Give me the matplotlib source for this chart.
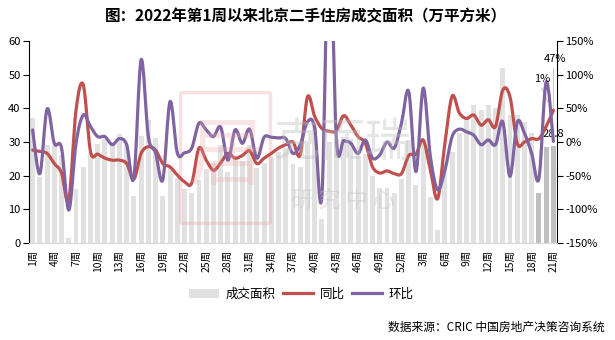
import matplotlib
matplotlib.use("Agg")
import matplotlib.pyplot as plt
from matplotlib.path import Path
from matplotlib.patches import PathPatch, Patch, FancyBboxPatch
from matplotlib.lines import Line2D
import numpy as np

plt.rcParams['font.family'] = ['Noto Sans CJK SC', 'DejaVu Sans']
plt.rcParams['axes.unicode_minus'] = False

# Week labels: 2022 weeks 1-52, then 2023 weeks 1-21
weeks_2022 = list(range(1, 53))
weeks_2023 = list(range(1, 22))
week_labels = [f"{w}周" for w in weeks_2022 + weeks_2023]

# Weekly transaction area (10k m2)
area = [37.0, 19.5, 29.0, 29.0, 26.0, 1.5, 16.0, 22.7, 26.7, 29.4,
        31.0, 30.0, 32.4, 29.0, 14.1, 31.8, 36.5, 31.2, 14.1, 22.6,
        19.2, 16.0, 15.0, 18.7, 22.0, 23.8, 29.0, 21.2, 25.0, 24.5,
        29.2, 22.2, 23.7, 25.4, 26.9, 28.3, 23.5, 22.5, 29.3, 35.4,
        7.2, 30.0, 31.0, 31.6, 31.0, 25.7, 26.5, 20.0, 16.3, 16.3,
        14.8, 19.0, 30.6, 17.2, 30.0, 13.8, 3.9, 23.7, 27.1, 32.7,
        37.0, 41.0, 39.5, 41.0, 40.0, 52.0, 38.0, 38.0, 36.0, 32.7,
        14.8, 28.4, 28.8]

# Year-on-year change (%)
yoy = [-12, -14, -17, -32, -46, -86, 47, 85, -14, -18,
       -24, -27, -27, -32, -55, -17, -7, -12, -32, -37,
       -49, -59, -61, -9, -27, -42, -31, -17, -24, -20,
       -13, -32, -24, -17, -9, -4, 0, -19, 67, 38,
       20, 16, 17, 39, 25, 8, -2, -37, -46, -43,
       -47, -47, -20, -18, 3, -42, -84, -2, 68, 43,
       35, 40, 25, 33, 23, 77, 67, -2, 0, 5,
       5, 23, 47]

# Week-on-week change (%)
wow = [18, -47, 49, -2, -9, -101, -2, 40, 23, 8,
       8, -4, 5, -4, -53, 122, 8, -16, -56, 60,
       -16, -16, -9, 28, 18, 8, 22, -27, 18, -2,
       19, -24, 7, 7, 6, 5, -17, -4, 30, 21,
       -79, 330, 3, 2, -2, -17, 3, -24, -19, 0,
       -9, 28, 75, -44, 80, -22, -71, -42, 8, 19,
       15, 10, -4, 3, -4, 30, -51, 29, 13, -17,
       -54, 89, 1]

BAR_LIGHT = '#e1e1e1'
BAR_DARK = '#bfbfbf'
RED = '#c0504d'
PURPLE = '#8064a2'


def smooth_path(xs, ys):
    """Bezier path through the points, Catmull-Rom style (like spreadsheet smoothed lines)."""
    pts = np.column_stack([xs, ys]).astype(float)
    n = len(pts)
    verts = [pts[0]]
    codes = [Path.MOVETO]
    for i in range(n - 1):
        p0 = pts[i - 1] if i > 0 else pts[i]
        p1 = pts[i]
        p2 = pts[i + 1]
        p3 = pts[i + 2] if i + 2 < n else pts[i + 1]
        c1 = p1 + (p2 - p0) / 6.0
        c2 = p2 - (p3 - p1) / 6.0
        verts += [c1, c2, p2]
        codes += [Path.CURVE4] * 3
    return Path(verts, codes)


fig = plt.figure(figsize=(6.15, 3.4), dpi=100)
ax = fig.add_axes([29 / 615, 1 - 243 / 340, (557 - 29) / 615, (243 - 41) / 340])
ax2 = ax.twinx()

x = np.arange(len(area))
colors = [BAR_LIGHT] * len(area)
for k in range(len(area) - 3, len(area)):
    colors[k] = BAR_DARK
ax.bar(x, area, width=0.68, color=colors, zorder=2)

ax.set_xlim(-0.5, len(area) - 0.5)
ax.set_ylim(0, 60)
ax.set_yticks(range(0, 61, 10))
ax2.set_ylim(-150, 150)
ax2.set_yticks(range(-150, 151, 50))
ax2.set_yticklabels([f"{v}%" for v in range(-150, 151, 50)])

tick_idx = list(range(0, len(area), 3))
ax.set_xticks(tick_idx)
ax.set_xticklabels([week_labels[i] for i in tick_idx], rotation=90, fontsize=7.5)
ax.tick_params(axis='x', length=0, pad=5)
ax.tick_params(axis='y', labelsize=8, length=4, width=0.8, direction='out', pad=2)
ax2.tick_params(axis='y', labelsize=8, length=4, width=0.8, direction='out', pad=2)

for a in (ax, ax2):
    a.spines['top'].set_visible(False)
    a.spines['bottom'].set_color('#d9d9d9')
    a.spines['left'].set_color('black')
    a.spines['right'].set_color('black')
    a.spines['left'].set_linewidth(0.8)
    a.spines['right'].set_linewidth(0.8)
ax2.spines['left'].set_visible(False)
ax.spines['right'].set_visible(False)

# Smoothed ratio lines on the right axis
for vals, col in ((yoy, RED), (wow, PURPLE)):
    patch = PathPatch(smooth_path(x, vals), facecolor='none', edgecolor=col,
                      lw=2.3, capstyle='round', joinstyle='round', zorder=5)
    ax2.add_patch(patch)

# Faint watermark
ax.add_patch(FancyBboxPatch((183 / 615, 1 - 222 / 340), 85 / 615, 128 / 340,
                            boxstyle='round,pad=0.004', transform=fig.transFigure,
                            facecolor='none', edgecolor='#e9a7a9', lw=2.5,
                            alpha=0.35, zorder=3))
fig.text(226 / 615, 1 - 157 / 340, "居", fontsize=54, color='#e9a7a9',
         alpha=0.28, ha='center', va='center', zorder=3)
fig.text(343 / 615, 1 - 143 / 340, "克而瑞", fontsize=33, color='#bdbdbd',
         alpha=0.38, ha='center', va='center', zorder=3)
fig.text(343 / 615, 1 - 201 / 340, "研 究 中 心", fontsize=16, color='#bdbdbd',
         alpha=0.38, ha='center', va='center', zorder=3)

# End-point data labels with leader lines
ax2.plot([x[-1], x[-1]], [yoy[-1] + 2, 110], color='#c8c8c8', lw=0.8, zorder=4)
ax2.text(x[-1] + 0.2, 124, "47%", fontsize=8, ha='center', va='center', zorder=6)
ax2.plot([x[-1] - 1.6, x[-1] - 0.8], [80, 60], color='#c8c8c8', lw=0.8, zorder=4)
ax2.text(x[-1] - 1.6, 94, "1%", fontsize=8, ha='center', va='center', zorder=6)
ax.text(x[-1], 32.5, f"{area[-1]}", fontsize=8, ha='center', va='center', zorder=6)

# Title, legend, source
fig.text(0.498, 1 - 16 / 340, "图：2022年第1周以来北京二手住房成交面积（万平方米）",
         fontsize=11.2, fontweight='bold', ha='center', va='center')
handles = [Patch(facecolor=BAR_LIGHT, edgecolor='none'),
           Line2D([], [], color=RED, lw=2.3),
           Line2D([], [], color=PURPLE, lw=2.3)]
fig.legend(handles, ["成交面积", "同比", "环比"], loc='center', ncol=3,
           bbox_to_anchor=(0.49, 1 - 294 / 340), frameon=False, fontsize=9,
           handlelength=2.4, handletextpad=0.5, columnspacing=0.6)
fig.text(605 / 615, 1 - 327 / 340, "数据来源：CRIC 中国房地产决策咨询系统",
         fontsize=8.5, ha='right', va='center')

fig.savefig("out.png", dpi=100)
